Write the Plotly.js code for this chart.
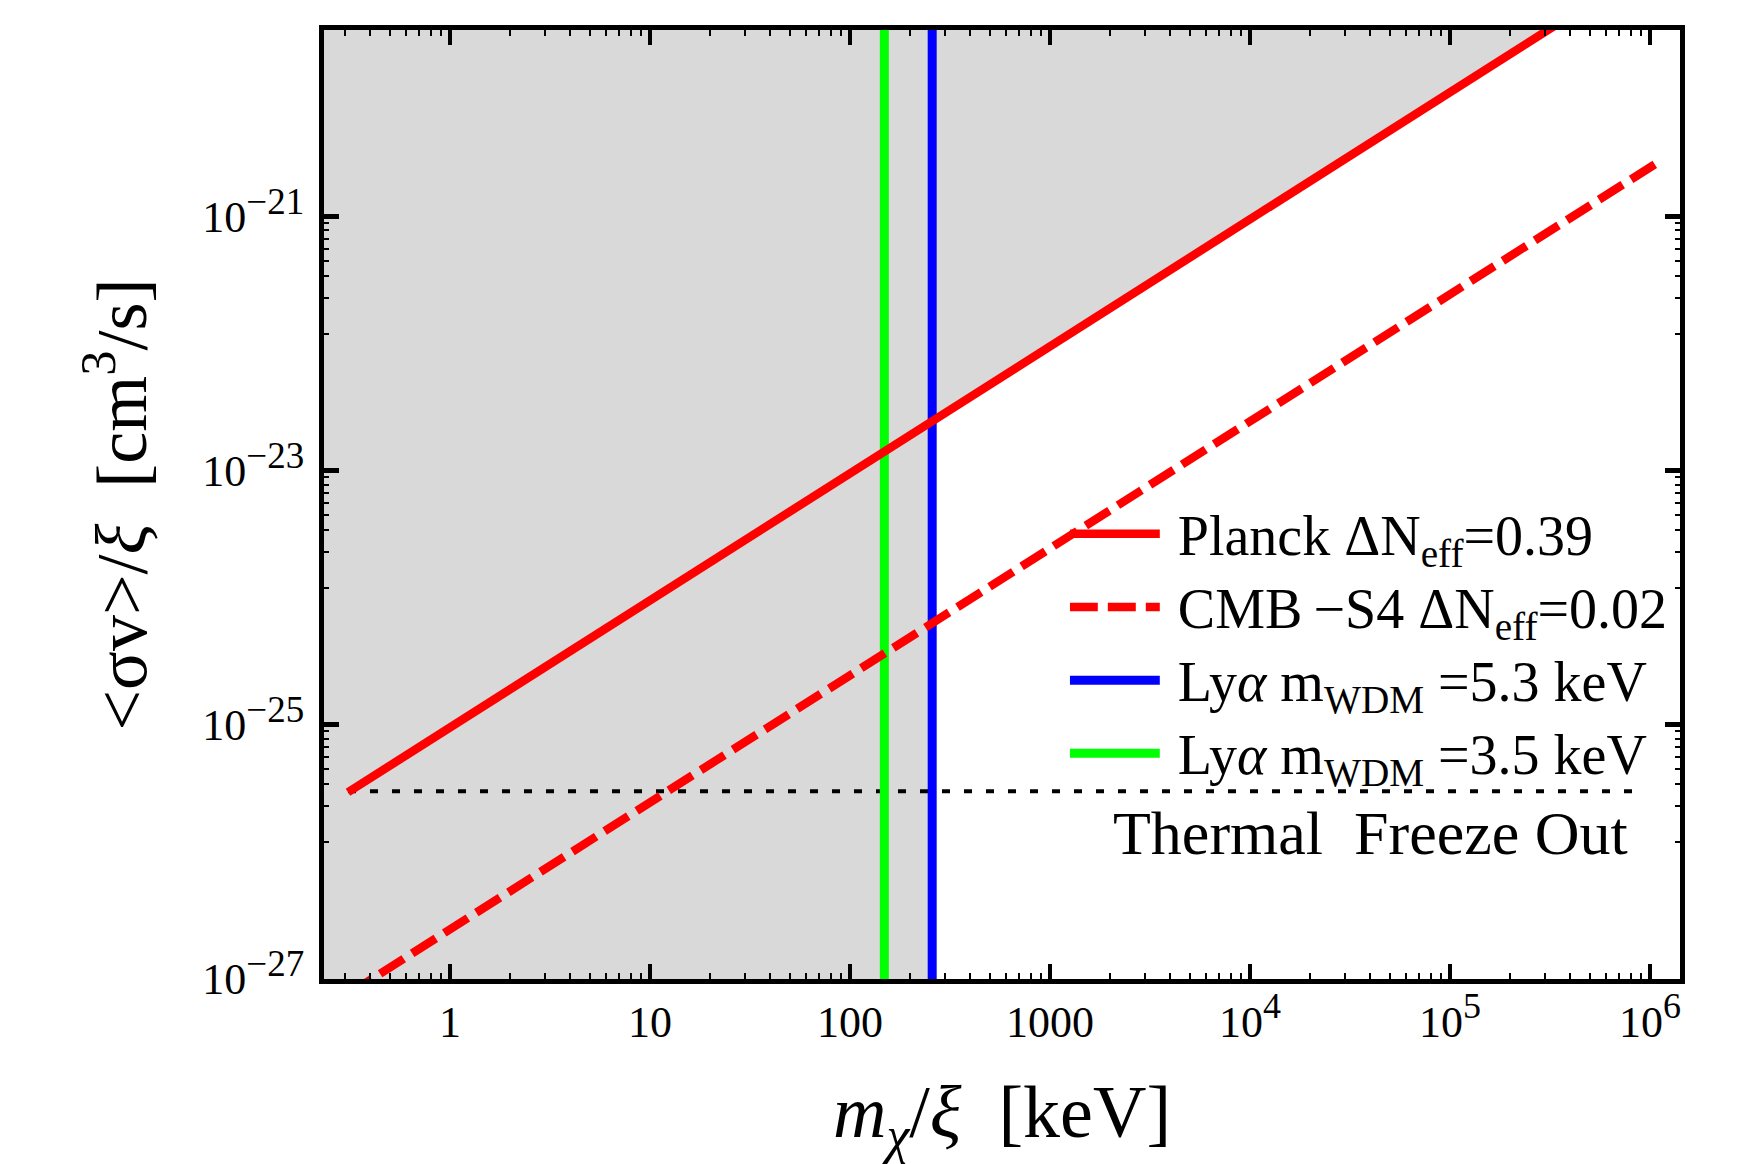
<!DOCTYPE html>
<html>
<head>
<meta charset="utf-8">
<script src="https://cdn.plot.ly/plotly-3.0.1.min.js"></script>
<style>
  html, body { margin: 0; padding: 0; background: #ffffff; }
  #chart { width: 1752px; height: 1164px; }
</style>
</head>
<body>
<div id="chart"></div>
<script>
// ---- Data (m/xi in keV, <sigma v>/xi in cm^3/s) ----
const planckMass = [0.309, 1.0e6];
const planckSigmaV = [2.95e-26, 9.55e-20];

const cmbS4Mass = [0.309, 1.07e6];
const cmbS4SigmaV = [7.6e-28, 2.62e-21];

const thermalMass = [0.309, 8.6e5];
const thermalSigmaV = [3.0e-26, 3.0e-26];

const lya53Mass = [257.6, 257.6];
const lya53SigmaV = [1e-28, 1e-19];

const lya35Mass = [148.5, 148.5];
const lya35SigmaV = [1e-28, 1e-19];

// excluded (grey) region: left of the Ly-alpha 5.3 keV line, and above the Planck line
const excludedMass = [0.1, 257.6, 257.6, 1.0e6, 1.0e6, 0.1];
const excludedSigmaV = [1e-28, 1e-28, 2.46e-23, 9.55e-20, 1e-19, 1e-19];

// ---- Tick labels ----
const SUPX = '<sup><span style="font-size:36px">';
const SUPY = '<sup><span style="font-size:37px">';
const xTickVals = [1, 10, 100, 1000, 1e4, 1e5, 1e6];
const xTickText = ['1', '10', '100', '1000',
  '10' + SUPX + '4</span></sup>', '10' + SUPX + '5</span></sup>', '10' + SUPX + '6</span></sup>'];
const yTickVals = [1e-27, 1e-25, 1e-23, 1e-21];
const yTickText = ['10' + SUPY + '\u221227</span></sup>', '10' + SUPY + '\u221225</span></sup>',
  '10' + SUPY + '\u221223</span></sup>', '10' + SUPY + '\u221221</span></sup>'];

const LG = '<span style="font-size:56px">';
const legendNames = [
  LG + 'Planck \u0394N<sub>eff</sub>=0.39</span>',
  LG + 'CMB\u2009\u2212S4 \u0394N<sub>eff</sub>=0.02</span>',
  LG + 'Ly<i>\u03b1</i> m<sub>WDM</sub> =5.3 keV</span>',
  LG + 'Ly<i>\u03b1</i> m<sub>WDM</sub> =3.5 keV</span>'
];

// minor tick positions (axis decoration)
const xMinor = [];
for (let n = -1; n <= 5; n++) for (let k = 2; k <= 9; k++) xMinor.push(k * Math.pow(10, n));
const yMinor = [];
for (const lo of [-27, -25, -23]) {
  const a = Math.pow(10, lo), b = Math.pow(10, lo + 2);
  for (let j = 1; j <= 8; j++) yMinor.push(a + j * (b - a) / 9);
}

const FONT = 'Liberation Serif, Times New Roman, serif';

const traces = [
  { x: excludedMass, y: excludedSigmaV, mode: 'lines', fill: 'toself',
    fillcolor: '#d9d9d9', line: { width: 0, color: 'rgba(0,0,0,0)' },
    showlegend: false, hoverinfo: 'skip' },
  { x: thermalMass, y: thermalSigmaV, mode: 'lines', showlegend: false,
    line: { color: '#000000', width: 4, dash: '8px,14px' } },
  { x: lya35Mass, y: lya35SigmaV, mode: 'lines', name: legendNames[3], legendrank: 4,
    line: { color: '#00ff00', width: 9 } },
  { x: lya53Mass, y: lya53SigmaV, mode: 'lines', name: legendNames[2], legendrank: 3,
    line: { color: '#0000ff', width: 9 } },
  { x: cmbS4Mass, y: cmbS4SigmaV, mode: 'lines', name: legendNames[1], legendrank: 2,
    line: { color: '#ff0000', width: 8.5, dash: '28px,10px' } },
  { x: planckMass, y: planckSigmaV, mode: 'lines', name: legendNames[0], legendrank: 1,
    line: { color: '#ff0000', width: 8.5 } }
];

const layout = {
  width: 1752, height: 1164,
  margin: { l: 324, r: 72, t: 30, b: 185, pad: 0 },
  paper_bgcolor: '#ffffff', plot_bgcolor: '#ffffff',
  font: { family: FONT, color: '#000000' },
  showlegend: true,
  legend: {
    x: 0.55, y: 0.513, xanchor: 'left', yanchor: 'top',
    bgcolor: 'rgba(0,0,0,0)', borderwidth: 0,
    font: { family: FONT, size: 54, color: '#000000' },
    itemwidth: 98, traceorder: 'normal'
  },
  xaxis: {
    type: 'log', range: [-0.63, 6.15], autorange: false,
    tickmode: 'array', tickvals: xTickVals, ticktext: xTickText,
    ticks: 'inside', ticklen: 15, tickwidth: 4, tickcolor: '#000000',
    showline: true, linewidth: 5, linecolor: '#000000', mirror: 'allticks',
    showgrid: false, zeroline: false, automargin: false,
    tickfont: { family: FONT, size: 44, color: '#000000' },
    ticklabelstandoff: 0,
    minor: { tickmode: 'array', tickvals: xMinor, ticks: 'inside', ticklen: 6,
             tickwidth: 2, tickcolor: '#000000', showgrid: false },
    title: { text: '<i>m</i><sub><i>\u03c7</i></sub>/<i>\u03be</i>  [keV]',
             font: { family: FONT, size: 74, color: '#000000' }, standoff: 92 }
  },
  yaxis: {
    type: 'log', range: [-27, -19.53], autorange: false,
    tickmode: 'array', tickvals: yTickVals, ticktext: yTickText,
    ticks: 'inside', ticklen: 15, tickwidth: 5, tickcolor: '#000000',
    showline: true, linewidth: 5, linecolor: '#000000', mirror: 'allticks',
    showgrid: false, zeroline: false, automargin: false,
    tickfont: { family: FONT, size: 44, color: '#000000' },
    ticklabelstandoff: 6,
    minor: { tickmode: 'array', tickvals: yMinor, ticks: 'inside', ticklen: 5,
             tickwidth: 2, tickcolor: '#000000', showgrid: false },
    title: { text: '&lt;\u03c3v&gt;/<i>\u03be</i>  [cm<sup>3</sup>/s]',
             font: { family: FONT, size: 72, color: '#000000' }, standoff: 34 }
  },
  annotations: [
    { text: 'Thermal\u00a0 Freeze Out', xref: 'paper', yref: 'paper',
      x: 0.7715, y: 0.154, xanchor: 'center', yanchor: 'middle', showarrow: false,
      font: { family: FONT, size: 62, color: '#000000' } }
  ]
};

Plotly.newPlot('chart', traces, layout, { displayModeBar: false, staticPlot: true }).then(function () {
  document.querySelectorAll('.legend .legendlines path').forEach(function (p) {
    p.setAttribute('d', 'M0,0h90');
  });
});
</script>
</body>
</html>
